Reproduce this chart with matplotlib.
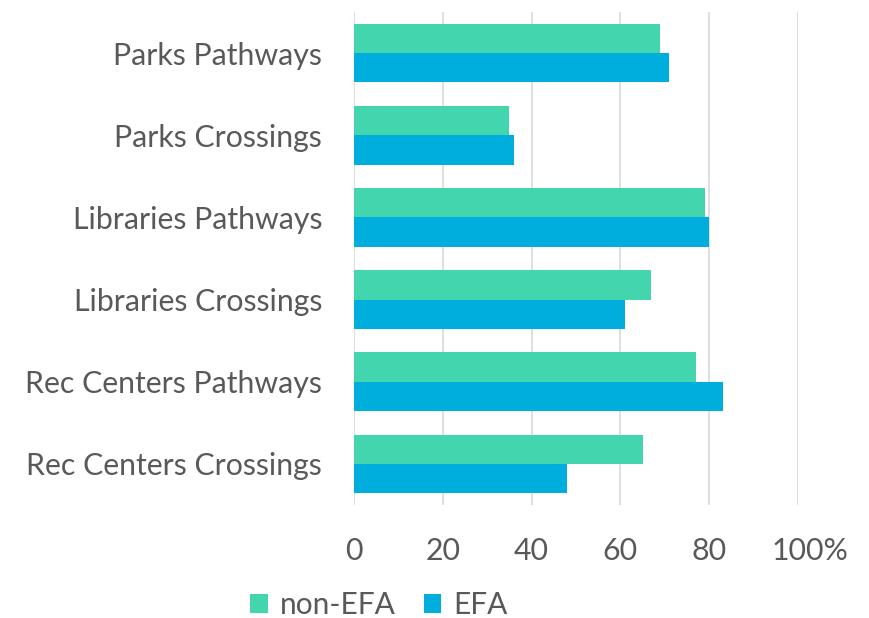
import matplotlib
matplotlib.use("Agg")
import matplotlib.pyplot as plt
import matplotlib.transforms as mtransforms
import numpy as np

categories = ["Parks Pathways", "Parks Crossings", "Libraries Pathways",
              "Libraries Crossings", "Rec Centers Pathways", "Rec Centers Crossings"]
non_efa = [69, 35, 79, 67, 77, 65]
efa = [71, 36, 80, 61, 83, 48]
xticks = [0, 20, 40, 60, 80, 100]
xtick_labels = ["0", "20", "40", "60", "80", "100%"]

plt.rcParams['font.family'] = ['Lato', 'DejaVu Sans']
text_color = "#595959"
c_non = "#43D5AE"
c_efa = "#00AEDD"

fig = plt.figure(figsize=(8.69, 6.18), dpi=100)
ax = fig.add_axes([354/869, 1-505/618, (798-354)/869, (505-12)/618])

y = np.arange(len(categories))
h = 0.357
ax.barh(y - h/2, non_efa, height=h, color=c_non, label="non-EFA", zorder=3)
ax.barh(y + h/2, efa, height=h, color=c_efa, label="EFA", zorder=3)

ax.set_xlim(0, 100)
ax.set_ylim(len(categories) - 0.5, -0.5)
ax.set_xticks(xticks)
ax.set_xticklabels(xtick_labels)
ax.set_yticks(y)
ax.set_yticklabels(categories)
ax.tick_params(axis='both', length=0, labelsize=21.8, colors=text_color)
ax.tick_params(axis='y', pad=23)
ax.tick_params(axis='x', pad=23)
ax.grid(axis='x', color="#D9D9D9", linewidth=1.2, zorder=0)
for s in ax.spines.values():
    s.set_visible(False)

last = ax.get_xticklabels()[-1]
last.set_transform(last.get_transform() + mtransforms.ScaledTranslation(12/100, 0, fig.dpi_scale_trans))

leg = fig.legend(loc='center', bbox_to_anchor=(379/869, 1-605/618), ncol=2,
                 frameon=False, fontsize=21.5, handlelength=0.58, handleheight=0.58,
                 handletextpad=0.4, columnspacing=0.95)
for t in leg.get_texts():
    t.set_color(text_color)

fig.savefig("out.png", dpi=100)
